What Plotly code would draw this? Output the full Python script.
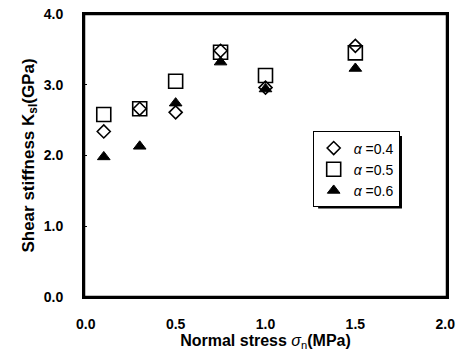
import plotly.graph_objects as go

normal_stress = [0.1, 0.3, 0.5, 0.75, 1.0, 1.5]
k_alpha04 = [2.34, 2.66, 2.61, 3.48, 2.96, 3.55]
k_alpha05 = [2.58, 2.66, 3.05, 3.46, 3.13, 3.45]
k_alpha06 = [1.98, 2.13, 2.74, 3.32, 2.94, 3.23]
series_names = ["<i>α</i> =0.4", "<i>α</i> =0.5", "<i>α</i> =0.6"]
x_ticks = [0.0, 0.5, 1.0, 1.5, 2.0]
y_ticks = [0.0, 1.0, 2.0, 3.0, 4.0]

FONT = "Liberation Sans, Arial, sans-serif"

fig = go.Figure()
fig.add_trace(go.Scatter(x=normal_stress, y=k_alpha05, mode="markers", name=series_names[1], legendrank=2,
                         marker=dict(symbol="square-open", size=14, color="black", line=dict(width=1.6))))
fig.add_trace(go.Scatter(x=normal_stress, y=k_alpha06, mode="markers", name=series_names[2], legendrank=3,
                         marker=dict(symbol="triangle-up", size=11, color="black", line=dict(width=1, color="black"))))
fig.add_trace(go.Scatter(x=normal_stress, y=k_alpha04, mode="markers", name=series_names[0], legendrank=1,
                         marker=dict(symbol="diamond-open", size=10, color="black", line=dict(width=1.6))))

fig.update_layout(
    width=458, height=356,
    margin=dict(l=84, r=11, t=14, b=59, autoexpand=False),
    paper_bgcolor="white", plot_bgcolor="white",
    font=dict(family=FONT, color="black", size=14),
    showlegend=True,
    legend=dict(x=0.63, y=0.585, xanchor="left", yanchor="top",
                bgcolor="white", bordercolor="black", borderwidth=1,
                font=dict(size=14, family=FONT), traceorder="normal",
                itemwidth=30, tracegroupgap=0),
    xaxis=dict(range=[-0.01, 2.01], tickvals=x_ticks, ticktext=[f"<b>{v:.1f}</b>" for v in x_ticks],
               showgrid=False, zeroline=False, showline=True, linecolor="black", linewidth=2,
               mirror=True, ticks="outside", ticklen=13, tickcolor="rgba(0,0,0,0)",
               tickfont=dict(size=14, family=FONT), automargin=False, ticklabeloverflow="allow",
               title=dict(text="<b>Normal stress </b><i>σ</i><sub>n</sub><b>(MPa)</b>", font=dict(size=16), standoff=3)),
    yaxis=dict(range=[0, 4.0], tickvals=y_ticks, ticktext=[f"<b>{v:.1f}</b>" for v in y_ticks],
               showgrid=False, zeroline=False, showline=True, linecolor="black", linewidth=2,
               mirror=True, ticks="outside", ticklen=16, tickcolor="rgba(0,0,0,0)",
               minor=dict(tickvals=y_ticks, ticks="inside", ticklen=3, tickcolor="black", showgrid=False),
               tickfont=dict(size=14, family=FONT), automargin=False, ticklabeloverflow="allow",
               title=dict(text="<b>Shear stiffness K<sub>sl</sub>(GPa)</b>", font=dict(size=17), standoff=5)),
)

# plot frame
fig.add_shape(type="rect", xref="paper", yref="paper", x0=0, x1=1, y0=0, y1=1,
              line=dict(color="black", width=2.5), fillcolor="rgba(0,0,0,0)", layer="above")
# legend drop shadow
fig.add_shape(type="rect", xref="paper", yref="paper", x0=0.645, x1=0.876, y0=0.313, y1=0.569,
              fillcolor="black", line=dict(width=0), layer="above")

# remove the default 8px page margin so the 458x356 figure fills the window exactly
fig.write_html("out.html", config={"displayModeBar": False},
               post_script="document.body.style.margin='0';document.body.style.overflow='hidden';")
